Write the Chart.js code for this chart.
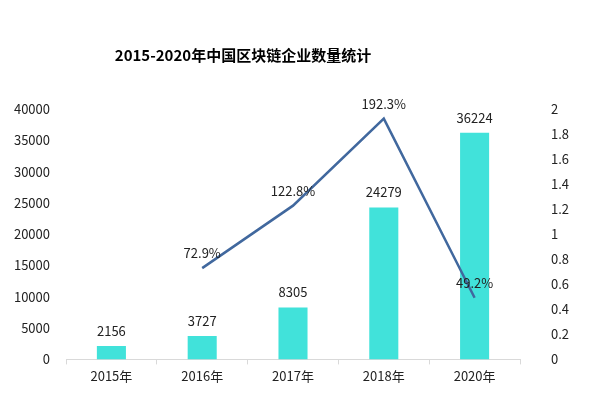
<!DOCTYPE html>
<html>
<head>
<meta charset="utf-8">
<script src="https://cdn.jsdelivr.net/npm/chart.js@4"></script>
<style>
    body { margin: 0; background: #fff; }
    #chart { display: block; }
</style>
</head>
<body>
<canvas id="chart" width="590" height="396"></canvas>
<script>
// Chart data
const years = ['2015年', '2016年', '2017年', '2018年', '2020年'];
const companyCounts = [2156, 3727, 8305, 24279, 36224];
const growthRates = [null, 0.729, 1.228, 1.923, 0.492];
const chartTitle = '2015-2020年中国区块链企业数量统计';

const FONT = '"Noto Sans CJK SC", "Noto Sans", sans-serif';

/**
 * Draws the title and the value labels above bars and line points
 */
const labelPlugin = {
    id: 'labels',
    afterDatasetsDraw(chart) {
        const ctx = chart.ctx;
        ctx.save();
        ctx.textAlign = 'center';
        ctx.textBaseline = 'middle';

        // title
        ctx.fillStyle = '#000';
        ctx.font = 'bold 15px ' + FONT;
        ctx.fillText(chartTitle, 243, 55);

        ctx.fillStyle = '#222';
        ctx.font = '13px ' + FONT;
        chart.data.datasets.forEach((ds, i) => {
            const meta = chart.getDatasetMeta(i);
            meta.data.forEach((el, j) => {
                const v = ds.data[j];
                if (v === null) return;
                const text = ds.type === 'line' ? (v * 100).toFixed(1) + '%' : String(v);
                ctx.fillText(text, el.x, el.y - 15);
            });
        });
        ctx.restore();
    }
};

const ctx = document.getElementById('chart').getContext('2d');

new Chart(ctx, {
    data: {
        labels: years,
        datasets: [
            {
                type: 'line',
                label: '增长率',
                data: growthRates,
                yAxisID: 'y2',
                borderColor: '#41689E',
                borderWidth: 2.5,
                pointRadius: 0,
                tension: 0,
                order: 1
            },
            {
                type: 'bar',
                label: '企业数量',
                data: companyCounts,
                yAxisID: 'y',
                backgroundColor: '#41E2DA',
                barPercentage: 0.64,
                categoryPercentage: 0.5,
                order: 2
            }
        ]
    },
    options: {
        responsive: false,
        animation: false,
        layout: {
            padding: { top: 109, left: 0, right: 0, bottom: 8 }
        },
        plugins: {
            legend: { display: false },
            title: { display: false },
            tooltip: { enabled: false }
        },
        scales: {
            x: {
                grid: {
                    display: true,
                    drawOnChartArea: false,
                    drawTicks: true,
                    tickLength: 5,
                    color: '#d9d9d9'
                },
                border: { color: '#d9d9d9' },
                ticks: {
                    color: '#222',
                    font: { family: FONT, size: 13 },
                    padding: 4
                }
            },
            y: {
                position: 'left',
                min: 0,
                max: 40000,
                grid: { display: false },
                border: { display: false },
                ticks: {
                    stepSize: 5000,
                    color: '#222',
                    padding: 8,
                    font: { family: FONT, size: 13 },
                    callback: value => String(value)
                },
                afterFit(scale) { scale.width = 66; }
            },
            y2: {
                position: 'right',
                min: 0,
                max: 2,
                grid: { display: false },
                border: { display: false },
                ticks: {
                    stepSize: 0.2,
                    color: '#222',
                    padding: 23,
                    font: { family: FONT, size: 13 },
                    callback: value => String(Number(value.toFixed(1)))
                },
                afterFit(scale) { scale.width = 70; }
            }
        }
    },
    plugins: [labelPlugin]
});
</script>
</body>
</html>
